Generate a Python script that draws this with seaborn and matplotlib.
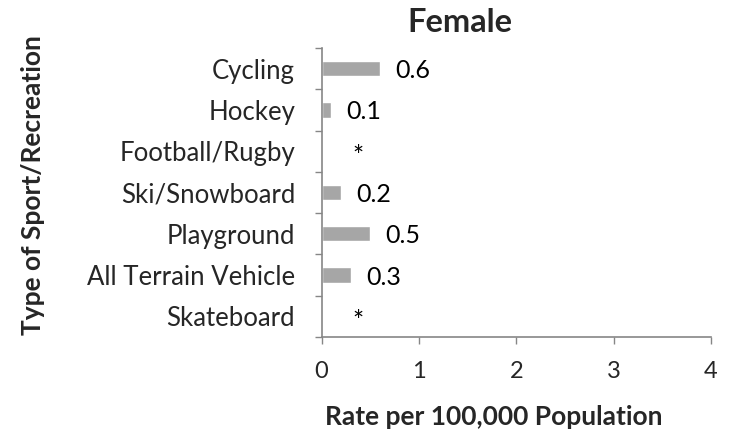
import matplotlib
matplotlib.use("Agg")
import matplotlib.pyplot as plt
import seaborn as sns
import pandas as pd
from matplotlib.ticker import FixedLocator

categories = ["Cycling", "Hockey", "Football/Rugby", "Ski/Snowboard",
              "Playground", "All Terrain Vehicle", "Skateboard"]
rates = [0.6, 0.1, 0.0, 0.2, 0.5, 0.3, 0.0]
value_labels = ["0.6", "0.1", "*", "0.2", "0.5", "0.3", "*"]
x_ticks = [0, 1, 2, 3, 4]

sns.set_theme(style="white")
plt.rcParams['font.family'] = ['Lato', 'DejaVu Sans']

df = pd.DataFrame({"category": categories, "rate": rates})

fig = plt.figure(figsize=(7.3, 4.36), dpi=100)
ax = fig.add_axes([0.4405, 0.227, 0.5335, 0.663])

sns.barplot(data=df, x="rate", y="category", orient="h", color="#a6a6a6",
            width=0.37, saturation=1, ax=ax)

ax.set_xlim(0, 4)
ax.set_ylim(len(categories) - 0.5, -0.5)
ax.set_xticks(x_ticks)
ax.set_xticklabels([str(t) for t in x_ticks], fontsize=17)
ax.tick_params(axis="x", direction="out", length=5, width=1, color="#868686",
               pad=12, bottom=True)
ax.tick_params(axis="y", which="major", length=0, pad=19, labelsize=18.5)
ax.yaxis.set_minor_locator(FixedLocator([i - 0.5 for i in range(len(categories) + 1)]))
ax.tick_params(axis="y", which="minor", direction="out", length=5, width=1,
               color="#868686", left=True)

for s in ["top", "right"]:
    ax.spines[s].set_visible(False)
for s in ["left", "bottom"]:
    ax.spines[s].set_color("#868686")
    ax.spines[s].set_linewidth(1.2)

for i, (v, lab) in enumerate(zip(rates, value_labels)):
    if lab == "*":
        ax.text(0.37, i + 0.33, lab, ha="center", va="baseline", fontsize=19, color="black")
    else:
        ax.text(v + 0.155, i + 0.23, lab, ha="left", va="baseline", fontsize=18, color="black")

ax.set_xlabel("")
ax.set_ylabel("")
fig.text(0.630, 0.927, "Female", ha="center", va="baseline", fontsize=23.5, fontweight="bold")
fig.text(0.677, 0.025, "Rate per 100,000 Population", ha="center", va="baseline",
         fontsize=19, fontweight="bold")
fig.text(0.045, 0.576, "Type of Sport/Recreation", ha="center", va="center",
         rotation=90, fontsize=19, fontweight="bold")

fig.savefig("out.png", dpi=100, facecolor="white")
